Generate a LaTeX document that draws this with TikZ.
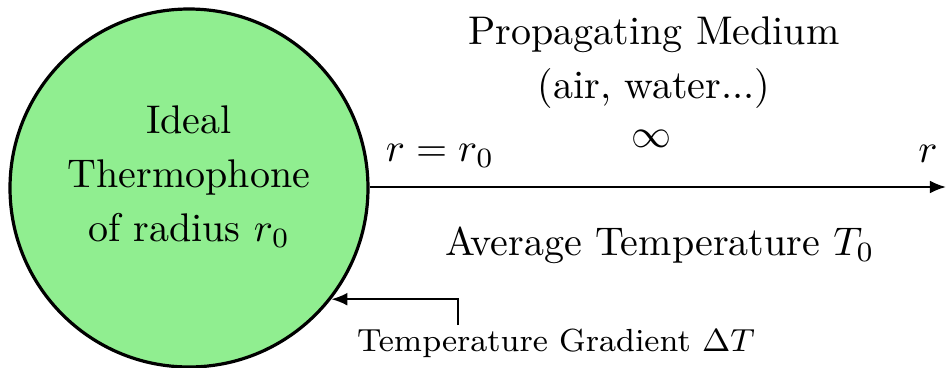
\documentclass[tikz,border=0pt]{standalone}
\usetikzlibrary{arrows.meta}
\definecolor{thermo}{HTML}{90EE90}
\begin{document}
\begin{tikzpicture}[x=0.25pt,y=0.25pt,
  lbl/.style={inner sep=0pt, font=\fontsize{10}{13.5}\selectfont},
  conn/.style={line width=0.5pt,-{Latex[length=4pt,width=3.2pt]}}]
\useasboundingbox (0,0) rectangle (946,367);
\node[circle, draw, line width=0.8pt, fill=thermo, minimum size=89.5pt, inner sep=0pt] (c) at (189,179) {};
\node[lbl, align=center] (t) at (189,190) {Ideal\\Thermophone\\of radius $r_0$};
\coordinate (e) at (946,180);
\draw[conn] (c.east |- e) -- (e);
\node[lbl] (r0) at (440,211) {$r = r_0$};
\node[lbl] (r) at (928,213) {$r$};
\node[lbl] (inf) at (652,228) {$\infty$};
\node[lbl] (pm) at (654,332) {Propagating Medium};
\node[lbl] (aw) at (654,279) {(air, water...)};
\node[lbl] (avg) at (660,122) {Average Temperature $T_0$};
\node[inner sep=0pt, font=\fontsize{8}{10}\selectfont] (grad) at (556,24) {Temperature Gradient $\Delta T$};
\coordinate (g) at (458,42);
\draw[conn] (g) |- (c.-38.7);
\end{tikzpicture}
\end{document}
